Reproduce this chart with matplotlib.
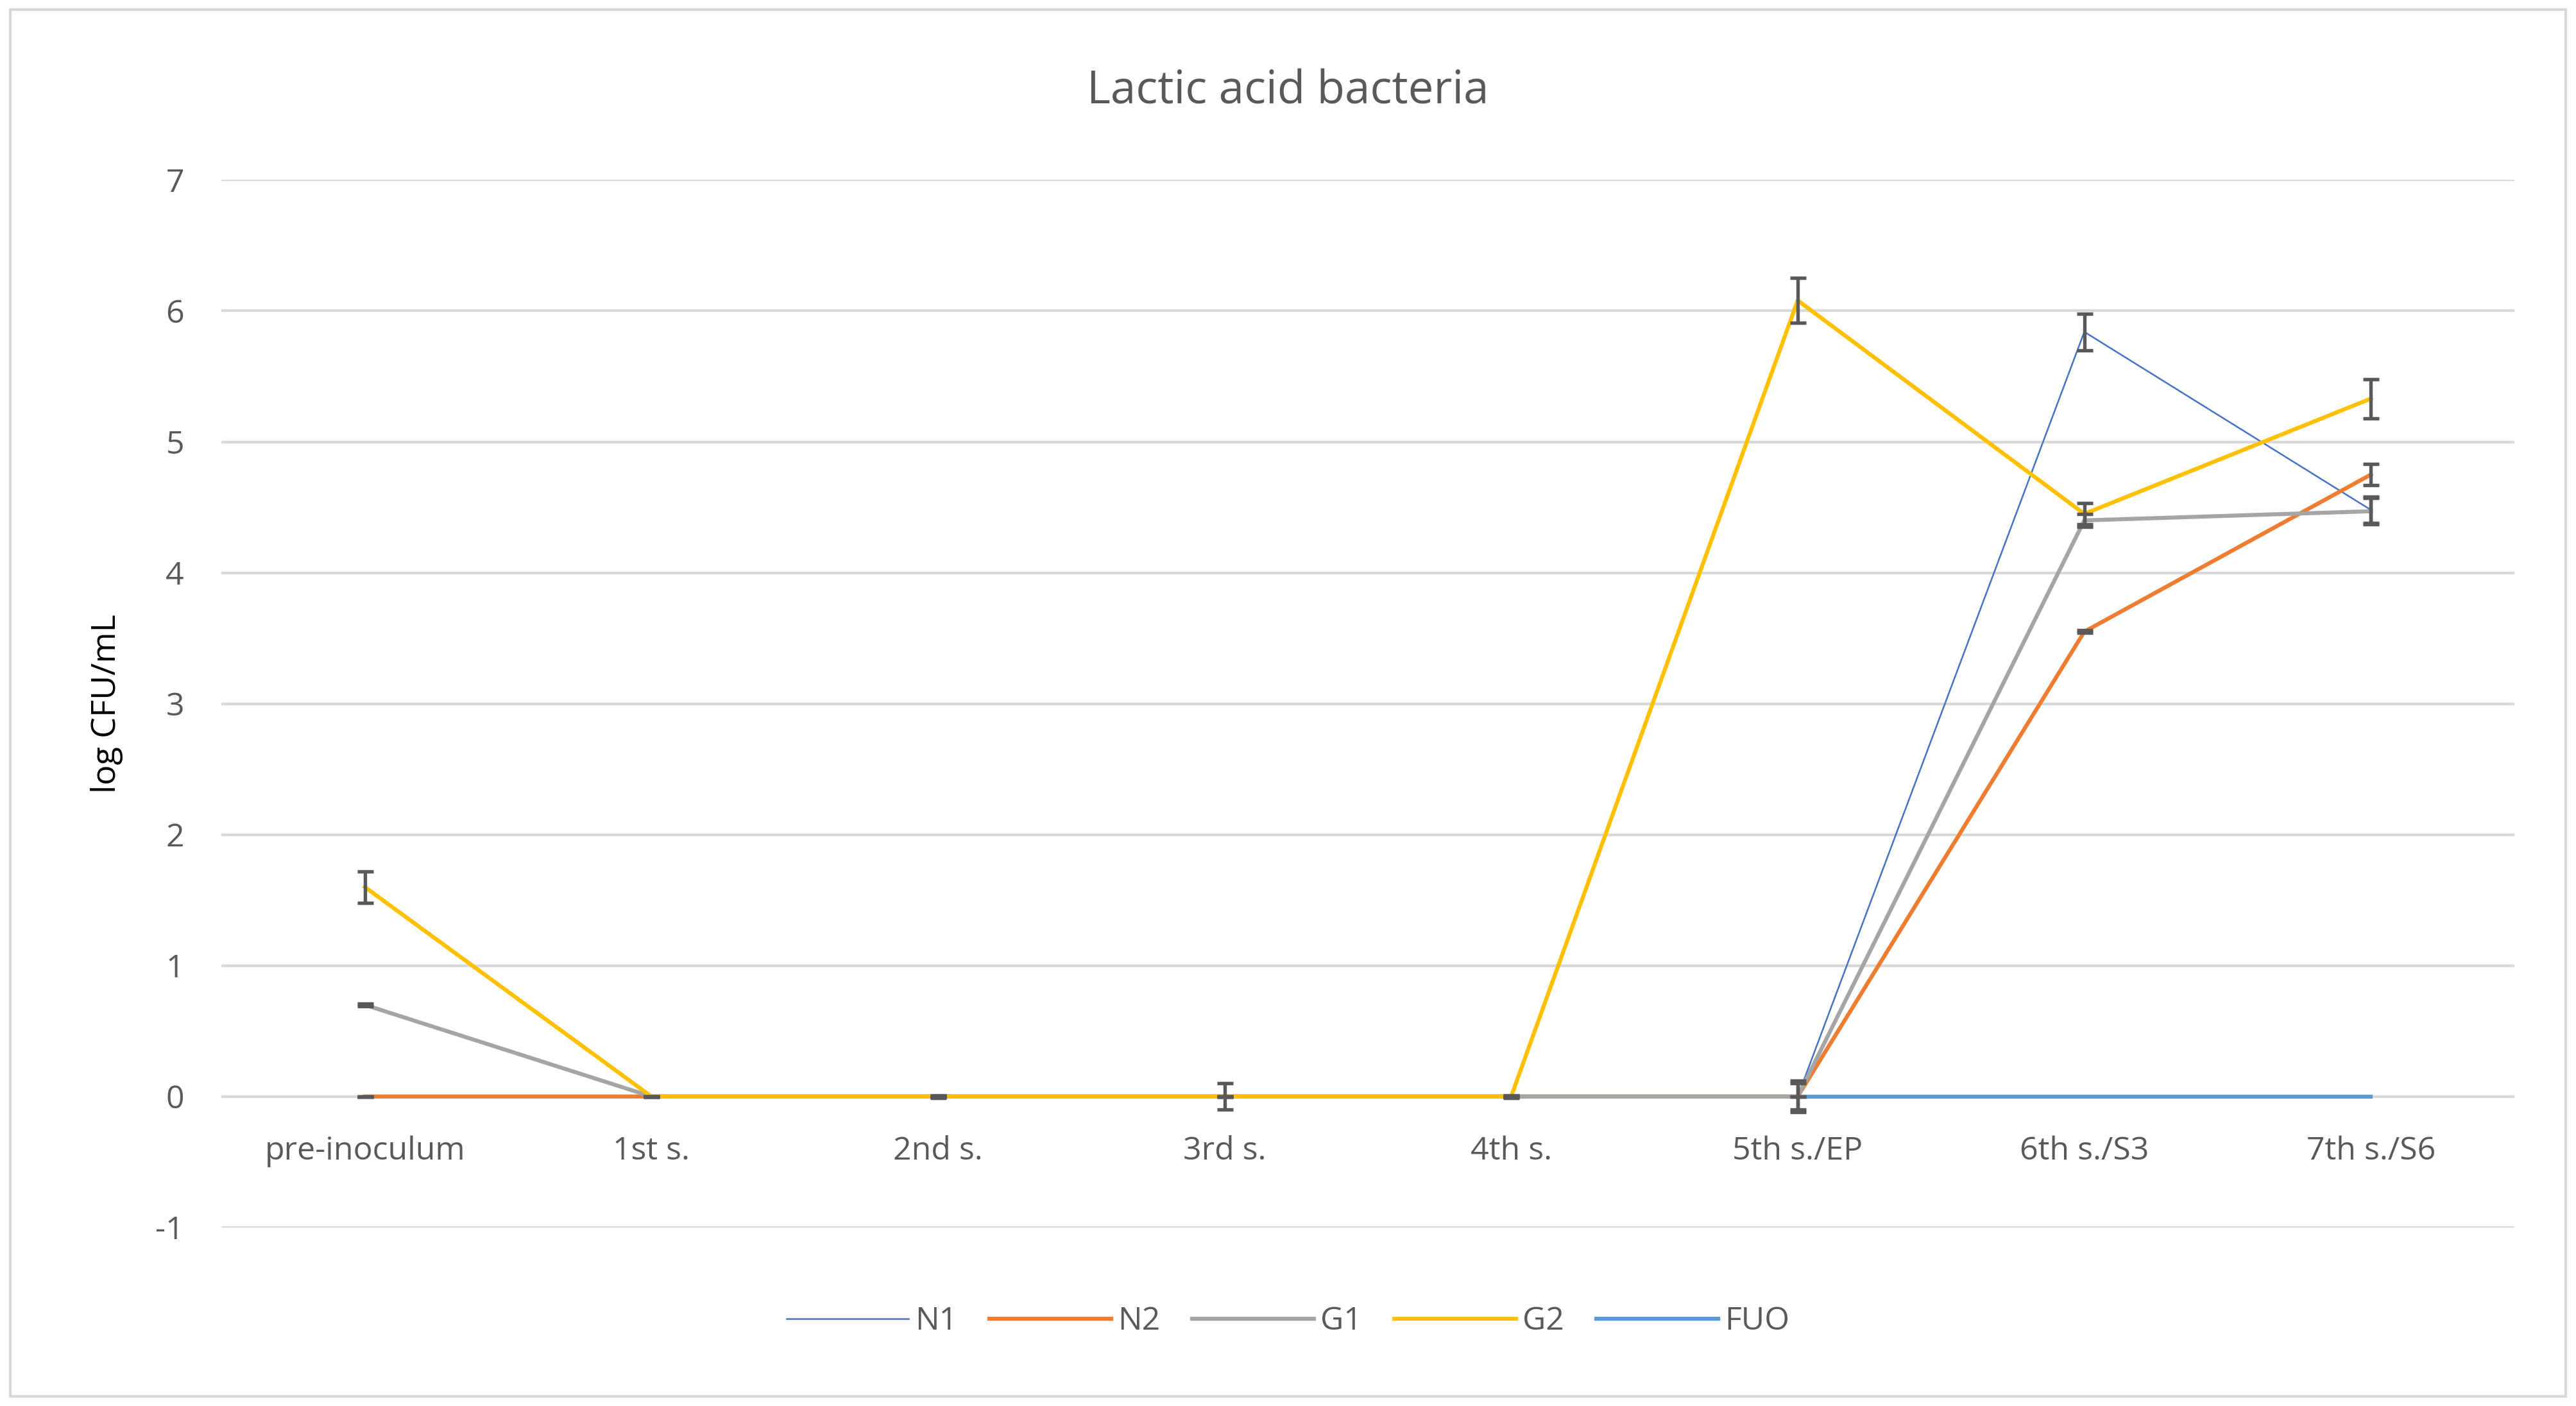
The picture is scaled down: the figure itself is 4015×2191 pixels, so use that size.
import matplotlib
matplotlib.use("Agg")
import matplotlib.pyplot as plt
import numpy as np

categories = ["pre-inoculum", "1st s.", "2nd s.", "3rd s.", "4th s.", "5th s./EP", "6th s./S3", "7th s./S6"]
N1 = [0, 0, 0, 0, 0, 0, 5.84, 4.48]
N1_err = [0, 0, 0, 0, 0, 0.12, 0.14, 0.1]
N2 = [0, 0, 0, 0, 0, 0, 3.55, 4.75]
N2_err = [0, 0, 0, 0, 0, 0, 0.01, 0.08]
G1 = [0.7, 0, 0, 0, 0, 0, 4.4, 4.47]
G1_err = [0.01, 0, 0.01, 0.1, 0.01, 0.1, 0.05, 0.1]
G2 = [1.6, 0, 0, 0, 0, 6.08, 4.45, 5.33]
G2_err = [0.12, 0, 0, 0, 0, 0.17, 0.08, 0.15]
FUO_x = [5, 6, 7]
FUO = [0, 0, 0]

plt.rcParams['font.family'] = ['Open Sans', 'DejaVu Sans']
plt.rcParams['axes.unicode_minus'] = False
fig = plt.figure(figsize=(4015/300, 2191/300), dpi=300)
fig.patches.append(plt.Rectangle((0.004, 0.007), 0.992, 0.986, transform=fig.transFigure,
                                 fill=False, edgecolor='#d9d9d9', lw=1))
ax = fig.add_axes([0.086, 0.127, 0.89, 0.745])
x = np.arange(len(categories))
ecol = '#595959'
series = [(N1, N1_err, '#4472c4', 0.6, 'N1'), (N2, N2_err, '#ed7d31', 1.5, 'N2'),
          (G1, G1_err, '#a5a5a5', 1.5, 'G1'), (G2, G2_err, '#ffc000', 1.5, 'G2')]
for y, e, c, lw, lab in series:
    ax.plot(x, y, color=c, lw=lw, label=lab, zorder=3)
    ax.errorbar(x, y, yerr=e, fmt='none', ecolor=ecol, elinewidth=1.3, capsize=3, capthick=1.3, zorder=4)
ax.plot(FUO_x, FUO, color='#5b9bd5', lw=1.5, label='FUO', zorder=3)

ax.set_xlim(-0.5, 7.5)
ax.set_ylim(-1, 7)
ax.set_yticks(range(-1, 8))
ax.grid(axis='y', color='#d9d9d9', lw=1)
ax.set_axisbelow(True)
for s in ax.spines.values():
    s.set_visible(False)
ax.tick_params(length=0, labelsize=12, colors='#595959', pad=14)
ax.set_xticks([])
for i, c in enumerate(categories):
    ax.text(i, -0.42, c, ha='center', va='center', fontsize=12, color='#595959')
ax.set_ylabel('log CFU/mL', fontsize=12.5, color='#000000', labelpad=12)
fig.text(0.5, 0.935, 'Lactic acid bacteria', ha='center', va='center', fontsize=17, color='#595959')
fig.legend(loc='center', bbox_to_anchor=(0.5, 0.06), ncol=5, frameon=False, fontsize=12,
           handlelength=3.8, columnspacing=1.0, handletextpad=0.2, labelcolor='#595959')
fig.savefig('out.png', dpi=300)
